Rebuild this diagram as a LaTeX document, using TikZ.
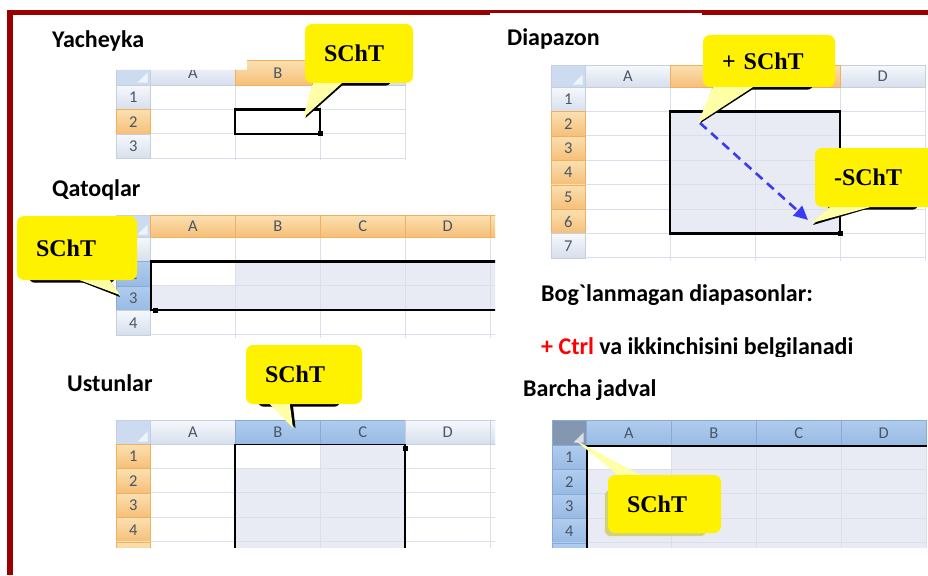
\documentclass[tikz,border=0pt]{standalone}
\usepackage{fontspec}
\setmainfont{Carlito}
\newfontfamily\serifb{Liberation Serif}
\usetikzlibrary{arrows.meta}
\pgfdeclarelayer{ust}
\pgfsetlayers{main,ust}

\definecolor{ramka}{HTML}{9A0000}
\definecolor{setka}{HTML}{DAE0EB}
\definecolor{tanlangan}{HTML}{E8EBF4}
\definecolor{oddiy1}{HTML}{F6F8FC}
\definecolor{oddiy2}{HTML}{D6DFEC}
\definecolor{oddiyc}{HTML}{C5CFDE}
\definecolor{sariq1}{HTML}{FBE0B0}
\definecolor{sariq2}{HTML}{F5BF78}
\definecolor{sariqc}{HTML}{F0B060}
\definecolor{kok1}{HTML}{B0CCEE}
\definecolor{kok2}{HTML}{98BAE3}
\definecolor{kokc}{HTML}{88AAD6}
\definecolor{hmatn}{HTML}{4A5568}
\definecolor{burchak}{HTML}{CCDBEF}
\definecolor{burchakq}{HTML}{8497B0}
\definecolor{dum}{HTML}{FFFFA8}
\definecolor{soyaq}{HTML}{D2D27A}
\definecolor{strelkarang}{HTML}{3A3AF5}

\tikzset{
  hdr/.style={draw=oddiyc, line width=0.6pt, top color=oddiy1, bottom color=oddiy2,
    text=hmatn, font=\fontsize{16.5}{16.5}\selectfont, inner sep=0pt, anchor=north west},
  hdrO/.style={hdr, draw=sariqc, top color=sariq1, bottom color=sariq2},
  hdrB/.style={hdr, draw=kokc, top color=kok1, bottom color=kok2},
  burchakcell/.style={hdr, top color=burchak, bottom color=burchak},
  burchakqcell/.style={hdr, draw=kokc, top color=burchakq, bottom color=burchakq},
  uchb/.style={fill=white, opacity=0.7},
  setkach/.style={draw=setka, line width=0.8pt},
  tanlov/.style={draw=black, line width=2.5pt},
  ingichka/.style={draw=black, line width=1.1pt},
  nom/.style={anchor=base west, inner sep=0pt, font=\bfseries\fontsize{24}{24}\selectfont},
  ballon/.style={fill=yellow, rounded corners=7pt, inner xsep=19pt, inner ysep=0pt,
    align=left, font=\serifb\bfseries\fontsize{24}{24}\selectfont},
  soya/.style={fill=black, rounded corners=6pt},
  strelka/.style={draw=strelkarang, line width=2.6pt, dash pattern=on 9pt off 6pt,
    -{Triangle[length=14pt,width=13pt]}}
}

\begin{document}
\begin{tikzpicture}[x=1pt,y=-1pt]
  \useasboundingbox (0,0) rectangle (928,575);
  \fill[white] (0,0) rectangle (928,575);
  \def\rw{34}   % satr sarlavhasi
  \def\cw{85}   % ustun kengligi
  \def\rh{24.4} % satr balandligi

  % ramka
  \draw[ramka, line width=5.5] (10,575) -- (10,12.5) -- (928,12.5);
  \fill[white] (490,13.4) rectangle (702,16.5);

  % Yacheyka
  \node[nom] (nYach) at (52,48) {Yacheyka};
  \begin{scope}[shift={(116,60)}]
    \def\hh{25}
    \clip (0,10) -- (131,10) -- (131,0) -- (292,0) -- (292,100) -- (0,100) -- cycle;
    \foreach \i in {1,2,3} \draw[setkach] (\rw+\i*\cw,\hh) -- ++(0,3*\rh+2);
    \foreach \j in {1,2,3} \draw[setkach] (\rw,\hh+\j*\rh) -- ++(3*\cw,0);
    \node[burchakcell, minimum width=\rw pt, minimum height=\hh pt] (ya0) at (0,0) {};
    \fill[uchb] ([shift={(-3pt,3pt)}]ya0.south east) -- ++(0,10pt) -- ++(-10pt,-10pt) -- cycle;
    \foreach \i/\hf/\st in {0/A/hdr,1/B/hdrO}
      \node[\st, minimum width=\cw pt, minimum height=\hh pt] (ya\hf) at (\rw+\i*\cw,0) {\hf};
    \node[hdr, minimum width=\cw pt, minimum height=\hh pt] (yaC) at (\rw+2*\cw,0) {};
    \foreach \j/\st in {1/hdr,2/hdrO,3/hdr}
      \node[\st, minimum width=\rw pt, minimum height=\rh pt] (ya\j) at (0,\hh+\j*\rh-\rh) {\j};
    \draw[tanlov] (\rw+\cw,\hh+\rh) rectangle ++(\cw,\rh);
    \fill (\rw+2*\cw,\hh+2*\rh) +(-2.5,-2.5) rectangle +(2.5,2.5);
  \end{scope}

  % Diapazon
  \node[nom] (nDiap) at (507,45.5) {Diapazon};
  \begin{scope}[shift={(551,65)}]
    \def\hh{22}
    \clip (0,0) rectangle (377,196);
    \fill[tanlangan] (\rw+\cw,\hh+\rh) rectangle ++(2*\cw,5*\rh);
    \foreach \i in {1,...,4} \draw[setkach] (\rw+\i*\cw,\hh) -- ++(0,7*\rh+3);
    \foreach \j in {1,...,7} \draw[setkach] (\rw,\hh+\j*\rh) -- ++(4*\cw,0);
    \node[burchakcell, minimum width=\rw pt, minimum height=\hh pt] (di0) at (0,0) {};
    \fill[uchb] ([shift={(-3pt,3pt)}]di0.south east) -- ++(0,10pt) -- ++(-10pt,-10pt) -- cycle;
    \foreach \i/\hf/\st in {0/A/hdr,3/D/hdr}
      \node[\st, minimum width=\cw pt, minimum height=\hh pt] (di\hf) at (\rw+\i*\cw,0) {\hf};
    \foreach \i/\hf in {1/B,2/C}
      \node[hdrO, minimum width=\cw pt, minimum height=\hh pt] (di\hf) at (\rw+\i*\cw,0) {};
    \foreach \j/\st in {1/hdr,2/hdrO,3/hdrO,4/hdrO,5/hdrO,6/hdrO,7/hdr}
      \node[\st, minimum width=\rw pt, minimum height=\rh pt] (di\j) at (0,\hh+\j*\rh-\rh) {\j};
    \draw[tanlov] (\rw+\cw,\hh+\rh) rectangle ++(2*\cw,5*\rh);
    \fill (\rw+3*\cw,\hh+6*\rh) +(-2.5,-2.5) rectangle +(2.5,2.5);
  \end{scope}

  % Qatoqlar
  \node[nom] (nQat) at (52,196) {Qatoqlar};
  \begin{scope}[shift={(116,215)}]
    \def\hh{22}
    \clip (0,0) rectangle (379,122);
    \fill[tanlangan] (\rw,\hh+\rh) rectangle ++(5*\cw,2*\rh);
    \fill[white] (\rw,\hh+\rh) rectangle ++(\cw,\rh);
    \foreach \i in {1,...,5} \draw[setkach] (\rw+\i*\cw,\hh) -- ++(0,4*\rh+3);
    \foreach \j in {1,...,4} \draw[setkach] (\rw,\hh+\j*\rh) -- ++(5*\cw,0);
    \node[burchakcell, minimum width=\rw pt, minimum height=\hh pt] (qa0) at (0,0) {};
    \fill[uchb] ([shift={(-3pt,3pt)}]qa0.south east) -- ++(0,10pt) -- ++(-10pt,-10pt) -- cycle;
    \foreach \i/\hf in {0/A,1/B,2/C,3/D,4/E}
      \node[hdrO, minimum width=\cw pt, minimum height=\hh pt] (qa\hf) at (\rw+\i*\cw,0) {\hf};
    \foreach \j/\st in {1/hdr,2/hdrB,3/hdrB,4/hdr}
      \node[\st, minimum width=\rw pt, minimum height=\rh pt] (qa\j) at (0,\hh+\j*\rh-\rh) {\j};
    \draw[tanlov] (\rw,\hh+\rh) -- ++(5*\cw,0);
    \draw[tanlov] (\rw,\hh+3*\rh) -- ++(5*\cw,0);
    \draw[ingichka] (\rw+1,\hh+\rh) -- ++(0,2*\rh);
    \fill (\rw+5,\hh+3*\rh) +(-2.5,-2.5) rectangle +(2.5,2.5);
  \end{scope}

  % Ustunlar
  \node[nom] (nUst) at (67,391.5) {Ustunlar};
  \begin{scope}[shift={(116,420)}]
    \def\hh{24}
    \clip (0,0) rectangle (379,127);
    \fill[tanlangan] (\rw+\cw,\hh) rectangle ++(2*\cw,5*\rh);
    \fill[white] (\rw+\cw,\hh) rectangle ++(\cw,\rh);
    \foreach \i in {1,...,5} \draw[setkach] (\rw+\i*\cw,\hh) -- ++(0,5*\rh);
    \foreach \j in {1,...,5} \draw[setkach] (\rw,\hh+\j*\rh) -- ++(5*\cw,0);
    \node[burchakcell, minimum width=\rw pt, minimum height=\hh pt] (us0) at (0,0) {};
    \fill[uchb] ([shift={(-3pt,3pt)}]us0.south east) -- ++(0,10pt) -- ++(-10pt,-10pt) -- cycle;
    \foreach \i/\hf/\st in {0/A/hdr,1/B/hdrB,2/C/hdrB,3/D/hdr,4/E/hdr}
      \node[\st, minimum width=\cw pt, minimum height=\hh pt] (us\hf) at (\rw+\i*\cw,0) {\hf};
    \foreach \j in {1,...,5}
      \node[hdrO, minimum width=\rw pt, minimum height=\rh pt] (us\j) at (0,\hh+\j*\rh-\rh) {\j};
    \draw[tanlov] (\rw+\cw,\hh) -- ++(0,5*\rh);
    \draw[tanlov] (\rw+3*\cw,\hh) -- ++(0,5*\rh);
    \draw[ingichka] (\rw+\cw,\hh+0.6) -- ++(2*\cw,0);
    \fill (\rw+3*\cw,\hh+4) +(-2.5,-2.5) rectangle +(2.5,2.5);
  \end{scope}

  % Bog`lanmagan diapasonlar
  \node[nom] (nBog) at (541,301.7) {Bog\textasciigrave lanmagan diapasonlar:};
  \begin{scope}
    \clip (530,320) rectangle (900,356.5);
    \node[nom] (nCtrl) at (541,354.3) {\textcolor{red}{+ Ctrl} va ikkinchisini belgilanadi};
  \end{scope}

  % Barcha jadval
  \node[nom] (nBar) at (523,396.7) {Barcha jadval};
  \begin{scope}[shift={(552,420)}]
    \def\hh{25}
    \clip (0,0) rectangle (376,127);
    \fill[tanlangan] (\rw,\hh) rectangle ++(4*\cw,5*\rh);
    \fill[white] (\rw,\hh) rectangle ++(\cw,\rh);
    \foreach \i in {1,...,4} \draw[setkach] (\rw+\i*\cw,\hh) -- ++(0,5*\rh);
    \foreach \j in {1,...,5} \draw[setkach] (\rw,\hh+\j*\rh) -- ++(4*\cw,0);
    \node[burchakqcell, minimum width=\rw pt, minimum height=\hh pt] (ba0) at (0,0) {};
    \fill[uchb] ([shift={(-3pt,3pt)}]ba0.south east) -- ++(0,10pt) -- ++(-10pt,-10pt) -- cycle;
    \foreach \i/\hf in {0/A,1/B,2/C,3/D}
      \node[hdrB, minimum width=\cw pt, minimum height=\hh pt] (ba\hf) at (\rw+\i*\cw,0) {\hf};
    \foreach \j in {1,...,5}
      \node[hdrB, minimum width=\rw pt, minimum height=\rh pt] (ba\j) at (0,\hh+\j*\rh-\rh) {\j};
    \draw[tanlov] (\rw+1,\hh+5*\rh) -- (\rw+1,\hh+1) -- ++(4*\cw,0);
  \end{scope}

  % strelka
  \coordinate (boshi) at (700,123);
  \coordinate (oxiri) at (808,220);
  \draw[strelka] (boshi) -- (oxiri);

  % SChT ballonlar
  \begin{pgfonlayer}{ust}
    \node[ballon, text width=70pt, minimum height=59pt] (sA) at (359,53.5) {SChT};
    \node[ballon, text width=94pt, minimum height=52pt] (sB) at (769,61) {+ SChT};
    \node[ballon, text width=82pt, minimum height=64pt] (sC) at (77,248) {SChT};
    \node[ballon, text width=78pt, minimum height=59pt] (sD) at (304,374.5) {SChT};
    \node[ballon, text width=87pt, minimum height=59pt] (sE) at (877.5,177.5) {-SChT};
    \node[ballon, text width=75pt, minimum height=58pt] (sF) at (664.5,504) {SChT};
  \end{pgfonlayer}
  \coordinate (uA) at (303,118);
  \coordinate (uB) at (698,123);
  \coordinate (uC) at (120,295);
  \coordinate (uD) at (293,428);
  \coordinate (uE) at (812,223);
  \coordinate (uF) at (575,440);

  % soyalar
  \foreach \s in {sA,sB,sC,sD,sE}
    \fill[soya] ([shift={(12pt,-2.5pt)}]\s.south west) rectangle ([shift={(-22pt,-20pt)}]\s.north east);
  \fill[soya, fill=soyaq] ([shift={(-3pt,-3pt)}]sF.south west) rectangle ([shift={(-15pt,-15pt)}]sF.north east);

  % dumlar
  \fill[black] ([xshift=8pt]sA.south west) -- ([xshift=2.5pt]uA) -- ([xshift=40pt]sA.south west) -- cycle;
  \fill[dum] ([xshift=8pt]sA.south west) -- (uA) -- ([xshift=37pt]sA.south west) -- cycle;
  \fill[black] ([xshift=10pt]sB.south west) -- ([xshift=2.5pt]uB) -- ([xshift=53pt]sB.south west) -- cycle;
  \fill[dum] ([xshift=10pt]sB.south west) -- (uB) -- ([xshift=50pt]sB.south west) -- cycle;
  \fill[black] ([xshift=60pt]sC.south west) -- ([yshift=-2pt]uC) -- ([xshift=93pt]sC.south west) -- cycle;
  \fill[dum] ([xshift=63pt]sC.south west) -- (uC) -- ([xshift=93pt]sC.south west) -- cycle;
  \fill[black] ([xshift=24pt]sD.south west) -- ([xshift=2.5pt]uD) -- ([xshift=47pt]sD.south west) -- cycle;
  \fill[dum] ([xshift=24pt]sD.south west) -- (uD) -- ([xshift=44pt]sD.south west) -- cycle;
  \fill[black] ([xshift=15pt]sE.south west) -- ([shift={(1pt,-2pt)}]uE) -- ([xshift=58pt]sE.south west) -- cycle;
  \fill[dum] ([xshift=15pt]sE.south west) -- (uE) -- ([xshift=55pt]sE.south west) -- cycle;
  \fill[dum] ([xshift=10pt]sF.north west) -- (uF) -- ([xshift=32pt]sF.north west) -- cycle;
\end{tikzpicture}
\end{document}
